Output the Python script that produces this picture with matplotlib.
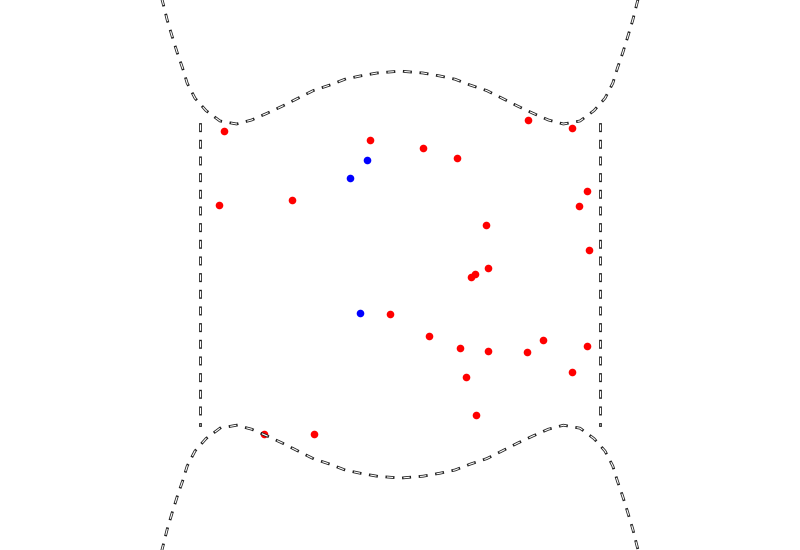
import numpy as np
import matplotlib
matplotlib.use("Agg")
import matplotlib.pyplot as plt

plt.rcParams["lines.scale_dashes"] = False

# right half of the upper boundary curve (mirrored for left half and bottom)
curve_u = [0, 0.034, 0.115, 0.2, 0.275, 0.35, 0.434, 0.514, 0.587, 0.664,
           0.742, 0.817, 0.9, 0.97, 1.025, 1.064, 1.087, 1.114, 1.139, 1.164,
           1.184, 1.2]
curve_v = [1.018, 1.0145, 1.008, 0.993, 0.977, 0.948, 0.92, 0.88, 0.843, 0.807,
           0.773, 0.753, 0.768, 0.82, 0.882, 0.957, 1.032, 1.11, 1.19, 1.273,
           1.353, 1.413]

wall_x = [-1.0, 1.0]
wall_top = 0.7525

red_x = [-0.882, -0.152, 0.114, 0.284, 0.639, 0.859, 0.934, 0.894, -0.907,
         -0.542, 0.429, 0.945, 0.439, 0.374, 0.354, -0.052, 0.145, 0.299,
         0.439, 0.634, 0.714, 0.934, 0.859, 0.329, 0.379, -0.679, -0.43]
red_y = [0.720, 0.675, 0.635, 0.585, 0.775, 0.735, 0.420, 0.345, 0.350,
         0.375, 0.250, 0.125, 0.035, 0.005, -0.011, -0.196, -0.307, -0.366,
         -0.381, -0.386, -0.326, -0.356, -0.486, -0.511, -0.701, -0.796, -0.796]

blue_x = [-0.167, -0.252, -0.202]
blue_y = [0.575, 0.485, -0.191]


def hollow_dash(ax, x, y):
    ax.plot(x, y, color="#222222", lw=2.0, dashes=(4.5, 7.5),
            dash_capstyle="projecting", zorder=3)
    ax.plot(x, y, color="white", lw=0.8, dashes=(4.5, 7.5),
            dash_capstyle="butt", zorder=4)


fig = plt.figure(figsize=(8, 5.5), dpi=100)
ax = fig.add_axes([0, 0, 1, 1])
ax.set_xlim(-2, 2)
ax.set_ylim(-1.377, 1.373)
ax.axis("off")

ax.scatter(red_x, red_y, s=30, color="red", linewidths=0, zorder=2)
ax.scatter(blue_x, blue_y, s=30, color="blue", linewidths=0, zorder=2)

u = np.array(curve_u)
v = np.array(curve_v)
cx = np.concatenate([-u[::-1], u[1:]])
cy = np.concatenate([v[::-1], v[1:]])
hollow_dash(ax, cx, cy)
hollow_dash(ax, cx, -cy)

for wx in wall_x:
    hollow_dash(ax, [wx, wx], [wall_top, -wall_top])

fig.savefig("out.png", dpi=100)
